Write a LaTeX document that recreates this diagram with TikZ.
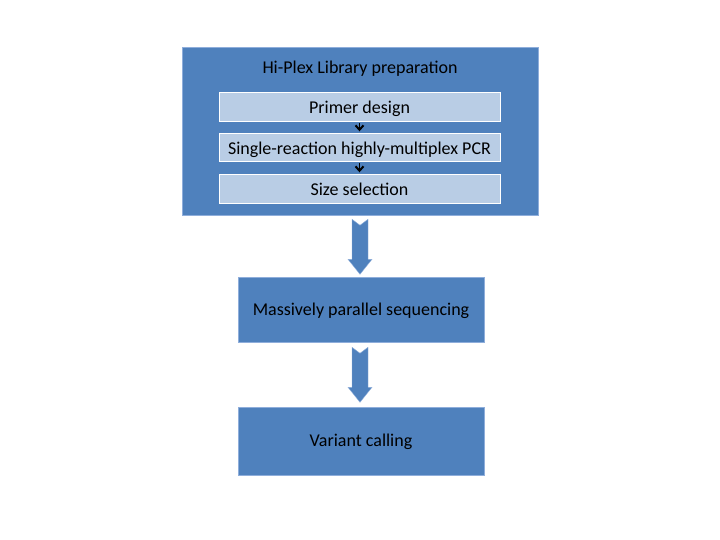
\documentclass[tikz,border=0pt]{standalone}
\usepackage{fontspec}
\setmainfont{Carlito}
\usetikzlibrary{arrows.meta,calc}
\definecolor{obl}{HTML}{4F81BD}
\definecolor{lbl}{HTML}{B9CDE5}
\definecolor{edg}{HTML}{8FAEDB}
\tikzset{
  txt/.style={font=\fontsize{18}{21}\selectfont,text height=14pt,text depth=2.4pt},
  outerbox/.style={fill=obl,draw=edg,line width=0.6pt,minimum width=356pt,minimum height=168pt,inner sep=0pt},
  subbox/.style={txt,text height=16pt,text depth=1.4pt,fill=lbl,draw=white,line width=0.4pt,minimum width=281pt,minimum height=29pt,inner sep=0pt},
  mainbox/.style={txt,fill=obl,draw=edg,line width=0.6pt,minimum width=246pt,minimum height=66pt,inner sep=0pt},
  smallarrow/.style={line width=1.2pt,shorten <=2pt,shorten >=1.5pt,-{Straight Barb[length=4.5pt,width=8pt,line width=2pt]}},
  blockarrow/.style={fill=obl,draw=edg,line width=0.4pt}
}
\begin{document}
\begin{tikzpicture}[x=1pt,y=1pt]
\useasboundingbox (0,0) rectangle (720,540);
\node[outerbox] (outer) at (360,409) {};
\node[txt,inner sep=0pt] (title) at (360,472) {Hi-Plex Library preparation};
\node[subbox] (s1) at (359.5,433.5) {Primer design};
\node[subbox,minimum height=28pt] (s2) at (359.5,393) {Single-reaction highly-multiplex PCR};
\node[subbox] (s3) at (359.5,351.5) {Size selection};
\draw[smallarrow] (s1.south) -- (s2.north);
\draw[smallarrow] (s2.south) -- (s3.north);
\node[mainbox,minimum height=65pt] (b2) at (361,230.5) {Massively parallel sequencing};
\node[mainbox,minimum height=68pt] (b3) at (361,99) {Variant calling};
\coordinate (a1) at ($(outer.south)+(0,-4)$);
\coordinate (a2) at ($(b2.south)+(-1,-5)$);
\path[blockarrow] (a1) ++(-8,0) -- ++(8,-6) -- ++(8,6) -- ++(0,-40) -- ++(4,0) -- ++(-12,-15) -- ++(-12,15) -- ++(4,0) -- cycle;
\path[blockarrow] (a2) ++(-8,0) -- ++(8,-6) -- ++(8,6) -- ++(0,-40) -- ++(4,0) -- ++(-12,-15) -- ++(-12,15) -- ++(4,0) -- cycle;
\end{tikzpicture}
\end{document}
